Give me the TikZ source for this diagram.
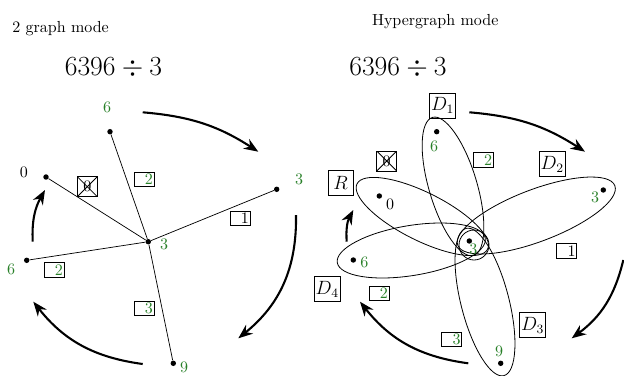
\documentclass[tikz,border=0pt]{standalone}
\usetikzlibrary{arrows.meta}
\definecolor{numgreen}{RGB}{40,128,40}
\newcommand{\bigexpr}{\fontsize{19}{23}\selectfont}
\tikzset{
  vtx/.style={circle,fill,inner sep=0pt,minimum size=3.4pt},
  num/.style={text=numgreen},
  edge/.style={line width=0.45pt},
  hedge/.style={line width=0.5pt},
  tag/.style={draw,line width=0.5pt,inner sep=0.8pt,text width=11pt,align=right,
    minimum height=9pt},
  xtag/.style={draw,line width=0.5pt,inner sep=0pt,minimum size=12.5pt,
    path picture={\draw[line width=0.5pt]
      (path picture bounding box.south west) -- (path picture bounding box.north east)
      (path picture bounding box.north west) -- (path picture bounding box.south east);}},
  dbox/.style={draw,line width=0.6pt,inner sep=1pt,minimum size=15.5pt,font=\large},
  flow/.style={-{Stealth[length=9pt,width=7pt]},line width=1.3pt}
}
\begin{document}
\begin{tikzpicture}[x=0.625pt,y=-0.625pt]
\useasboundingbox (0,0) rectangle (624,375);

% 2 graph mode
\node[anchor=base west,inner sep=0pt] (ttl) at (12,32.7) {2 graph mode};
\node[anchor=base,font=\bigexpr] (lexp) at (113.5,75) {$6396 \div 3$};

\node[vtx] (lc) at (148.3,241.7) {};
\node[vtx] (lt) at (110,131.7) {};
\node[vtx] (lz) at (46,177) {};
\node[vtx] (le) at (276.7,189.3) {};
\node[vtx] (lw) at (26.7,260.3) {};
\node[vtx] (ls) at (173.3,363.3) {};
\foreach \v in {lt,lz,le,lw,ls}
  \draw[edge] (lc) -- (\v);

\node[num] (lcn) at (164,244) {3};
\node[num] (ltn) at (107,107) {6};
\node (lzn) at (24,172) {0};
\node[num] (len) at (299,179) {3};
\node[num] (lwn) at (11,269) {6};
\node[num] (lsn) at (184,367.5) {9};

\node[xtag] (lzt) at (87.3,186.7) {0};
\node[tag,num] (ltt) at (144,179.3) {2};
\node[tag] (let) at (240,218.3) {1};
\node[tag,num] (lwt) at (54,270) {2};
\node[tag,num] (lst) at (144,308.3) {3};

\draw[flow] (142.7,112.3) to[bend left=14] (258.3,151.7);
\draw[flow] (296,215) to[bend left=26] (238.3,338.3);
\draw[flow] (142.7,364) to[bend left=22] (33.3,301.7);
\draw[flow] (32.7,241.7) to[bend left=16] (45,190);

% Hypergraph mode
\node[anchor=base west,inner sep=0pt] (htl) at (371.7,25.7) {Hypergraph mode};
\node[anchor=base,font=\bigexpr] (rexp) at (398,75) {$6396 \div 3$};

\node[vtx] (rc) at (469.3,241) {};
\node[vtx] (rt) at (436.7,131.7) {};
\node[vtx] (rz) at (379.3,196) {};
\node[vtx] (re) at (603.3,190) {};
\node[vtx] (rw) at (353.3,260) {};
\node[vtx] (rs) at (500.7,363.3) {};

\draw[hedge] (474,245) circle (15);
\draw[hedge,rotate around={-73.4:(453,186.4)}] (453,186.4) ellipse (72 and 24);
\draw[hedge,rotate around={20.8:(536.3,215.5)}] (536.3,215.5) ellipse (84 and 26);
\draw[hedge,rotate around={-75.6:(485,302)}] (485,302) ellipse (76 and 24);
\draw[hedge,rotate around={9.3:(411.3,250.5)}] (411.3,250.5) ellipse (75 and 25);
\draw[hedge,rotate around={-26.6:(422.3,216.5)}] (422.3,216.5) ellipse (73 and 24);

\node[num] (rcn) at (473.3,249) {3};
\node[num] (rtn) at (434,146) {6};
\node (rzn) at (390,204.3) {0};
\node[num] (ren) at (595,197.7) {3};
\node[num] (rwn) at (364.3,262) {6};
\node[num] (rsn) at (499,351.7) {9};

\node[dbox] (d1) at (442.7,105.7) {$D_1$};
\node[dbox] (d2) at (552.3,164) {$D_2$};
\node[dbox] (d3) at (532.7,325) {$D_3$};
\node[dbox] (d4) at (327.3,289.3) {$D_4$};
\node[dbox] (rr) at (340.7,183.3) {$R$};

\node[xtag] (rzt) at (386.7,161) {0};
\node[tag,num] (rtt) at (483.3,160) {2};
\node[tag] (ret) at (566.7,251) {1};
\node[tag,num] (rwt) at (379,293.3) {2};
\node[tag,num] (rst) at (451.7,339.3) {3};

\draw[flow] (469.3,112.3) to[bend left=14] (585,151.7);
\draw[flow] (623.3,260) to[bend left=20] (571.7,338.3);
\draw[flow] (468.3,363.3) to[bend left=22] (360,301.7);
\draw[flow] (346.7,241.7) to[bend left=16] (353.3,210);
\end{tikzpicture}
\end{document}
